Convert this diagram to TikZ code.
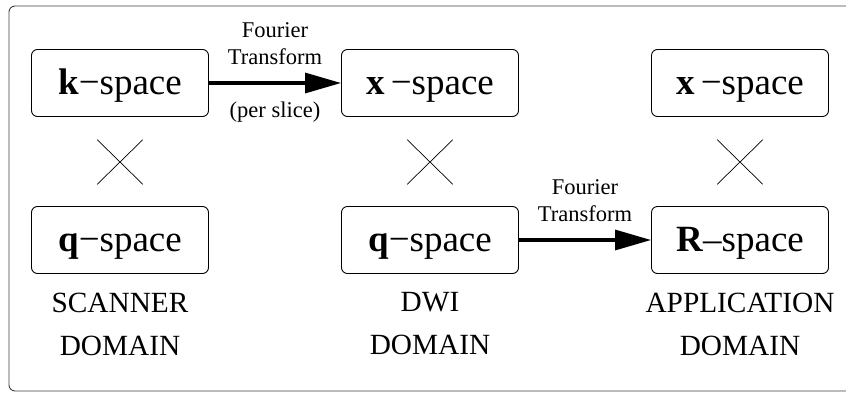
\documentclass[tikz,border=0pt]{standalone}
\usepackage{fontspec}
\setmainfont{Liberation Serif}
\usetikzlibrary{arrows.meta,shapes.misc}

\begin{document}
\begin{tikzpicture}[x=1pt,y=-1pt,node distance=310pt,
  space/.style={draw,rounded corners=6pt,line width=0.9pt,minimum width=177pt,minimum height=67pt,text height=28pt,text depth=5pt,font=\fontsize{37}{40}\selectfont},
  crossmark/.style={draw,cross out,line width=0.7pt,minimum width=45pt,minimum height=44pt,inner sep=0pt},
  domlabel/.style={align=center,font=\fontsize{29.3}{43}\selectfont},
  ft/.style={-{Triangle[length=36pt,width=20pt]},line width=3.2pt},
  ftlabel/.style={align=center,font=\fontsize{22.5}{27}\selectfont}]

\useasboundingbox (0,0) rectangle (846,394);
\draw[black!75,line width=0.9pt,rounded corners=6pt] (9,6) rectangle (870,391);

\node[space](k) at (120,83){\textbf{k}−space};
\node[space](xd)[right of=k]{\textbf{x}\,−space};
\node[space](xa)[right of=xd]{\textbf{x}\,−space};
\node[space](qs)[below of=k,node distance=157pt]{\textbf{q}−space};
\node[space](qd)[below of=xd,node distance=157pt]{\textbf{q}−space};
\node[space](R)[below of=xa,node distance=157pt]{\textbf{R}–space};

\node[crossmark](ts)[below of=k,node distance=79pt]{};
\node[crossmark](td)[below of=xd,node distance=79pt]{};
\node[crossmark](ta)[below of=xa,node distance=79pt]{};

\node[domlabel](sd)[below of=qs,node distance=84pt]{SCANNER\\DOMAIN};
\node[domlabel](dd)[below of=qd,node distance=84pt]{DWI\\DOMAIN};
\node[domlabel](ad)[below of=R,node distance=84pt]{APPLICATION\\DOMAIN};

\draw[ft](k)--node[ftlabel,above=13pt]{Fourier\\Transform}node[ftlabel,below=14pt]{(per slice)}(xd);
\draw[ft](qd)--node[ftlabel,above=13pt]{Fourier\\Transform}(R);

\end{tikzpicture}
\end{document}
